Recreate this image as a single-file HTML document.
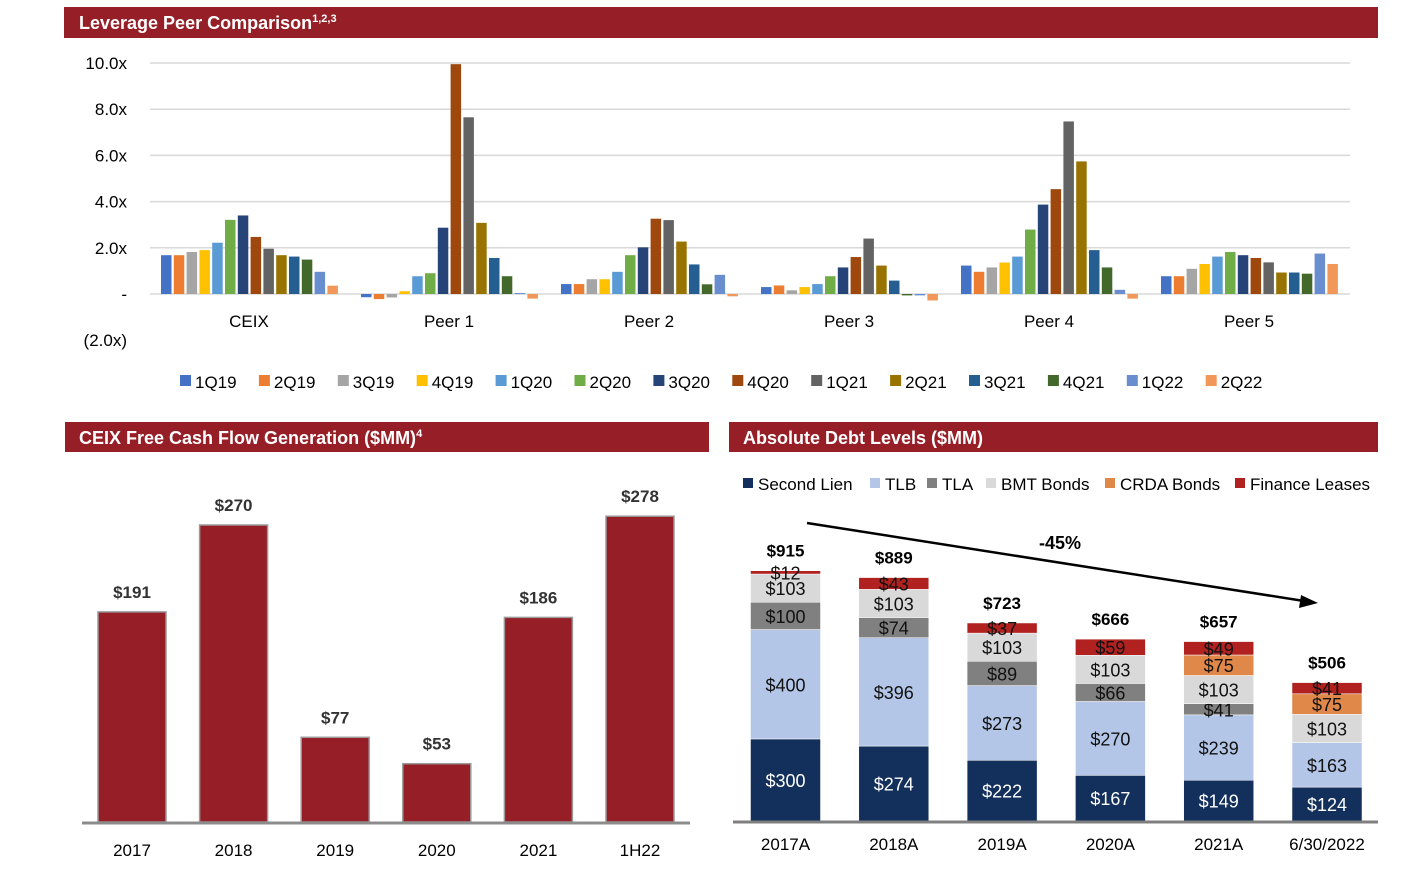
<!DOCTYPE html>
<html><head><meta charset="utf-8"><style>
body{margin:0;background:#fff;width:1402px;height:872px;overflow:hidden;font-family:"Liberation Sans",sans-serif}
svg text{font-family:"Liberation Sans",sans-serif}
</style></head><body>
<svg id="s" width="1402" height="872">
<rect x="64" y="7" width="1314" height="31" fill="#961e27"/>
<text x="79" y="29" fill="#fff" font-size="18" font-weight="bold">Leverage Peer Comparison<tspan font-size="11" dy="-7">1,2,3</tspan></text>
<rect x="65" y="422" width="644" height="30" fill="#961e27"/>
<text x="79" y="444" fill="#fff" font-size="18" font-weight="bold">CEIX Free Cash Flow Generation ($MM)<tspan font-size="11" dy="-7">4</tspan></text>
<rect x="729" y="422" width="649" height="30" fill="#961e27"/>
<text x="743" y="444" fill="#fff" font-size="18" font-weight="bold">Absolute Debt Levels ($MM)</text>
<g id="g1"></g><g id="g2"></g><g id="g3"></g>
</svg>
<script>
const NS="http://www.w3.org/2000/svg";
function el(p,t,a,txt){const e=document.createElementNS(NS,t);for(const k in a)e.setAttribute(k,a[k]);if(txt!==undefined)e.textContent=txt;p.appendChild(e);return e;}

// ---- Leverage chart data ----
const peers=["CEIX","Peer 1","Peer 2","Peer 3","Peer 4","Peer 5"];
const quarters=["1Q19","2Q19","3Q19","4Q19","1Q20","2Q20","3Q20","4Q20","1Q21","2Q21","3Q21","4Q21","1Q22","2Q22"];
const levCEIX=[1.68,1.68,1.82,1.90,2.22,3.21,3.40,2.47,1.96,1.68,1.62,1.49,0.96,0.36];
const levPeer1=[-0.14,-0.22,-0.15,0.12,0.77,0.90,2.87,9.95,7.65,3.08,1.56,0.77,0.04,-0.2];
const levPeer2=[0.43,0.43,0.64,0.64,0.96,1.68,2.02,3.26,3.20,2.27,1.28,0.42,0.83,-0.1];
const levPeer3=[0.30,0.37,0.16,0.30,0.43,0.77,1.15,1.60,2.40,1.23,0.58,-0.06,-0.06,-0.28];
const levPeer4=[1.23,0.96,1.15,1.36,1.62,2.79,3.87,4.54,7.47,5.74,1.90,1.15,0.18,-0.2];
const levPeer5=[0.77,0.77,1.09,1.30,1.62,1.82,1.68,1.56,1.37,0.93,0.93,0.88,1.75,1.30];
const levTicks=[10,8,6,4,2,0,-2];
const levTickLabels=["10.0x","8.0x","6.0x","4.0x","2.0x","-","(2.0x)"];
const qColors=["#4472c4","#ed7d31","#a5a5a5","#ffc000","#5b9bd5","#70ad47","#264478","#9e480e","#636363","#997300","#255e91","#43682b","#698ed0","#f1975a"];

const g1=document.getElementById('g1');
const ly=v=>294-v*23.1;
levTicks.forEach((t,i)=>{
  if(t!==-2){const l=el(g1,'line',{x1:150,x2:1350,y1:ly(t),y2:ly(t),stroke:'#d9d9d9','stroke-width':1.5});
  
  }
  const tx=el(g1,'text',{x:127,y:ly(t)+6,'font-size':17,'text-anchor':'end',fill:'#000'},levTickLabels[i]);
  
  
});
const levAll=[levCEIX,levPeer1,levPeer2,levPeer3,levPeer4,levPeer5];
const gx=i=>161+i*200;
levAll.forEach((arr,gi)=>{
  arr.forEach((v,qi)=>{
    const x=gx(gi)+qi*12.8,y0=ly(0),y1=ly(v);
    const r=el(g1,'rect',{x:x,y:Math.min(y0,y1),width:10.5,height:Math.max(1,Math.abs(y1-y0)),fill:qColors[qi]});
    
    
  });
  const t=el(g1,'text',{x:gx(gi)+88,y:327,'font-size':17,'text-anchor':'middle'},peers[gi]);
  
  
});
quarters.forEach((q,i)=>{
  const x=180+i*78.9;
  const r=el(g1,'rect',{x:x,y:375,width:11,height:11,fill:qColors[i]});
  
  
  const t=el(g1,'text',{x:x+15,y:388,'font-size':17},q);
  
  
});

// ---- FCF chart ----
const fcfYears=["2017","2018","2019","2020","2021","1H22"];
const fcfValues=[191,270,77,53,186,278];
const g2=document.getElementById('g2');
const fy=v=>822-v*1.1;
fcfValues.forEach((v,i)=>{
  const cx=132+i*101.6;
  const r=el(g2,'rect',{x:cx-34,y:fy(v),width:68,height:822-fy(v),fill:'#961e27',stroke:'#9a9a9a','stroke-width':1.5});
  
  
  const t=el(g2,'text',{x:cx,y:fy(v)-14,'font-size':17,'font-weight':'bold','text-anchor':'middle',fill:'#333'},'$'+v);
  
  
  const xl=el(g2,'text',{x:cx,y:856,'font-size':17,'text-anchor':'middle'},fcfYears[i]);
  
  
});
const fb=el(g2,'line',{x1:82,x2:690,y1:823,y2:823,stroke:'#8c8c8c','stroke-width':3});



// ---- Debt chart ----
const debtYears=["2017A","2018A","2019A","2020A","2021A","6/30/2022"];
const debtSeries=["Second Lien","TLB","TLA","BMT Bonds","CRDA Bonds","Finance Leases"];
const secondLien=[300,274,222,167,149,124];
const tlb=[400,396,273,270,239,163];
const tla=[100,74,89,66,41,0];
const bmt=[103,103,103,103,103,103];
const crda=[0,0,0,0,75,75];
const finLeases=[12,43,37,59,49,41];
const debtTotals=[915,889,723,666,657,506];
const dColors=["#132f5b","#b4c6e7","#808080","#d9d9d9","#e0874a","#b0211f"];
const g3=document.getElementById('g3');
const dy=v=>821-v*0.2735;
const dAll=[secondLien,tlb,tla,bmt,crda,finLeases];
debtYears.forEach((yr,i)=>{
  const cx=785.5+i*108.3;let cum=0;
  dAll.forEach((arr,si)=>{
    const v=arr[i];if(!v)return;
    const y0=dy(cum),y1=dy(cum+v);cum+=v;
    const r=el(g3,'rect',{x:cx-35,y:y1,width:70,height:y0-y1,fill:dColors[si],stroke:'#fff','stroke-width':0.5});
    
    
    const t=el(g3,'text',{x:cx,y:(y0+y1)/2+7,'font-size':18,'text-anchor':'middle',fill:si===0?'#fff':'#111'},'$'+v);
    
    
  });
  const tt=el(g3,'text',{x:cx,y:dy(cum)-14,'font-size':17,'font-weight':'bold','text-anchor':'middle'},'$'+debtTotals[i]);
  
  
  const xl=el(g3,'text',{x:cx,y:850,'font-size':17,'text-anchor':'middle'},yr);
  
  
});
const db=el(g3,'line',{x1:733,x2:1378,y1:822,y2:822,stroke:'#7f7f7f','stroke-width':3});


const legX=[743,870,927,986,1105,1235];
debtSeries.forEach((s,i)=>{
  const r=el(g3,'rect',{x:legX[i],y:478,width:10,height:10,fill:dColors[i]});
  
  
  const t=el(g3,'text',{x:legX[i]+15,y:490,'font-size':17},s);
  
  
});
const ar=el(g3,'line',{x1:807,y1:523,x2:1304,y2:601,stroke:'#000','stroke-width':2.5});


const ah=el(g3,'polygon',{points:'1318,603 1301,595 1299,608',fill:'#000'});


const pc=el(g3,'text',{x:1060,y:549,'font-size':18,'font-weight':'bold','text-anchor':'middle'},'-45%');


</script>
</body></html>
